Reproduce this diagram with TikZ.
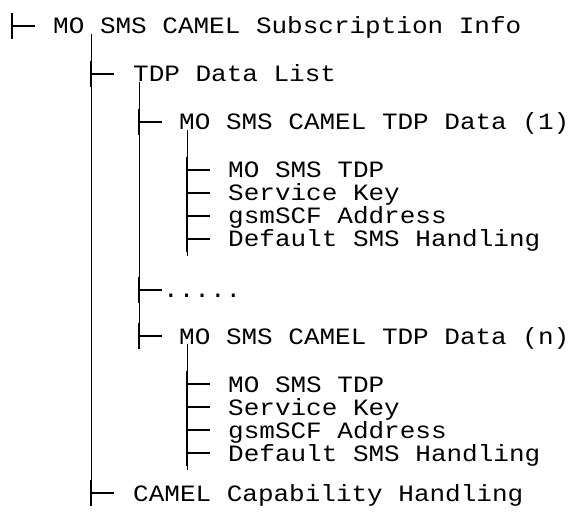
\documentclass[tikz,border=0pt]{standalone}
\usepackage{fontspec}
\setmonofont{Liberation Mono}
\usetikzlibrary{positioning}

\newcommand{\squash}[1]{\scalebox{1}[0.9]{#1}}

\tikzset{
  entry/.style={anchor=base west, inner sep=0pt,
    font=\ttfamily\fontsize{26}{26}\selectfont},
  stem/.style={line width=1pt},
  tickmark/.style={line width=2pt},
}

\begin{document}
\begin{tikzpicture}[x=1pt, y=-1pt]
\useasboundingbox (0,0) rectangle (575,518);

% branch points of the tree
\coordinate (b-info) at (12,26);
\coordinate (b-tdp) at (91,74);
\coordinate (b-one) at (139,122);
\coordinate (b-one-tdp) at (187,170);
\coordinate (b-one-key) at (187,193);
\coordinate (b-one-scf) at (187,216);
\coordinate (b-one-dsh) at (187,239);
\coordinate (b-dots) at (139,290);
\coordinate (b-nth) at (139,336);
\coordinate (b-nth-tdp) at (187,384);
\coordinate (b-nth-key) at (187,407);
\coordinate (b-nth-scf) at (187,430);
\coordinate (b-nth-dsh) at (187,453);
\coordinate (b-camel) at (91,493);

% entries
\node[entry] (info) at ([xshift=41pt,yshift=-8pt]b-info) {\squash{MO SMS CAMEL Subscription Info}};
\node[entry] (tdp) at ([xshift=42pt,yshift=-8pt]b-tdp) {\squash{TDP Data List}};
\node[entry] (one) at ([xshift=40pt,yshift=-8pt]b-one) {\squash{MO SMS CAMEL TDP Data (1)}};
\node[entry] (one-tdp) at ([xshift=41pt,yshift=-8pt]b-one-tdp) {\squash{MO SMS TDP}};
\node[entry] (one-key) at ([xshift=41pt,yshift=-8pt]b-one-key) {\squash{Service Key}};
\node[entry] (one-scf) at ([xshift=41pt,yshift=-8pt]b-one-scf) {\squash{gsmSCF Address}};
\node[entry] (one-dsh) at ([xshift=41pt,yshift=-8pt]b-one-dsh) {\squash{Default SMS Handling}};
\node[entry] (dots) at ([xshift=24pt,yshift=-8pt]b-dots) {\squash{.....}};
\node[entry] (nth) at ([xshift=40pt,yshift=-8pt]b-nth) {\squash{MO SMS CAMEL TDP Data (n)}};
\node[entry] (nth-tdp) at ([xshift=41pt,yshift=-8pt]b-nth-tdp) {\squash{MO SMS TDP}};
\node[entry] (nth-key) at ([xshift=41pt,yshift=-8pt]b-nth-key) {\squash{Service Key}};
\node[entry] (nth-scf) at ([xshift=41pt,yshift=-8pt]b-nth-scf) {\squash{gsmSCF Address}};
\node[entry] (nth-dsh) at ([xshift=41pt,yshift=-8pt]b-nth-dsh) {\squash{Default SMS Handling}};
\node[entry] (camel) at ([xshift=42pt,yshift=-8pt]b-camel) {\squash{CAMEL Capability Handling}};

% stems
\draw[stem] (b-tdp |- info.base) -- ([yshift=-13pt]b-camel);
\draw[stem] (b-one |- tdp.base) -- ([yshift=-13pt]b-nth);
\draw[stem] (b-one-tdp |- one.base) -- ([yshift=-17pt]b-one-dsh);
\draw[stem] (b-nth-tdp |- nth.base) -- ([yshift=-17pt]b-nth-dsh);

% ticks
\foreach \n in {info,tdp,one,one-tdp,one-key,one-scf,one-dsh,dots,nth,nth-tdp,nth-key,nth-scf,nth-dsh,camel}
  \draw[tickmark] ([yshift=13pt]b-\n) -- ([yshift=-13pt]b-\n)
                  (b-\n) -- ([xshift=23pt]b-\n);
\end{tikzpicture}
\end{document}
